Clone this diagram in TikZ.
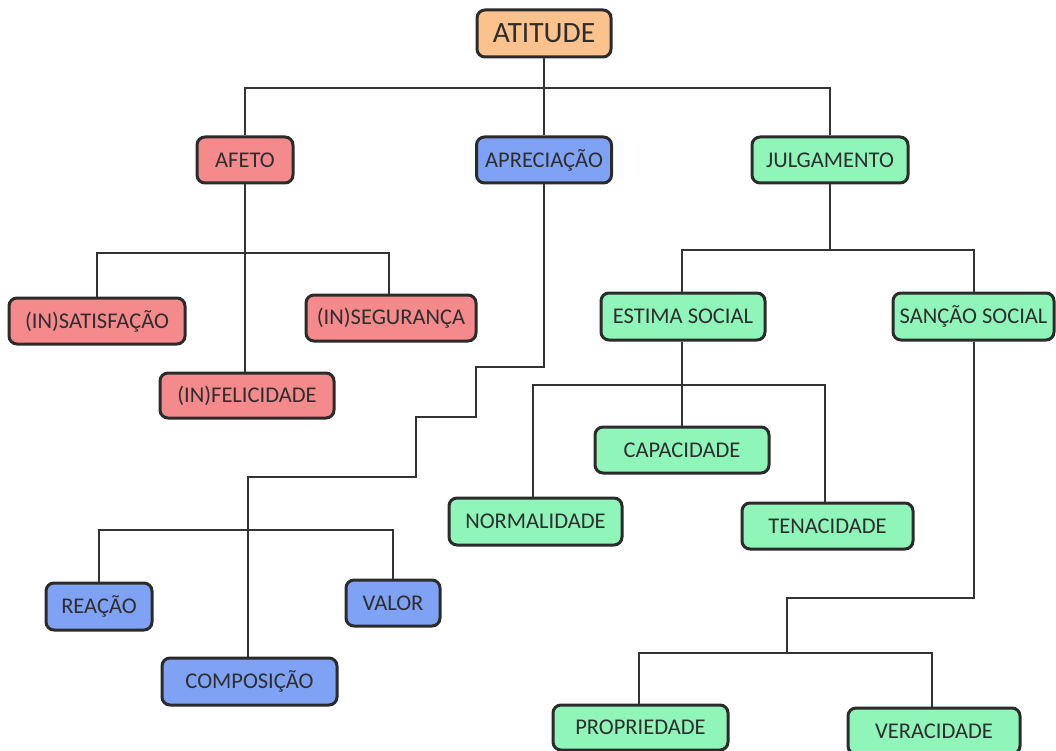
\documentclass[tikz,border=0pt]{standalone}
\usepackage{fontspec}
\setmainfont{Carlito}
\begin{document}
\begin{tikzpicture}[x=1pt,y=-1pt,
  box/.style={draw=boxline, line width=3pt, rounded corners=8pt, text=txt,
    inner sep=0pt, font=\fontsize{22.5}{26}\selectfont},
  rootbox/.style={box, fill=rootfill, font=\fontsize{29.5}{33}\selectfont},
  redbox/.style={box, fill=redfill},
  bluebox/.style={box, fill=bluefill},
  greenbox/.style={box, fill=greenfill},
  link/.style={draw=linecol, line width=2pt}]
\definecolor{boxline}{HTML}{2B2B2B}
\definecolor{linecol}{HTML}{333333}
\definecolor{txt}{HTML}{2E2E2E}
\definecolor{rootfill}{HTML}{FCC28D}
\definecolor{redfill}{HTML}{F48A8C}
\definecolor{bluefill}{HTML}{7FA2F5}
\definecolor{greenfill}{HTML}{8FF5B9}

\useasboundingbox[fill=white] (0,0) rectangle (1056,751);

% bends of the connectors
\coordinate (b0) at (544,88);
\coordinate (b1) at (245,253);
\coordinate (ja) at (830,250);
\coordinate (ea) at (682,385);
\coordinate (s1) at (974,598);
\coordinate (s2) at (787,598);
\coordinate (s3) at (787,653);
\coordinate (a1) at (544,367);
\coordinate (a2) at (476,367);
\coordinate (a3) at (476,417);
\coordinate (a4) at (416,417);
\coordinate (a5) at (416,477);
\coordinate (a6) at (248,477);
\coordinate (a7) at (248,530);

% nodes
\node[rootbox,  minimum width=134pt, minimum height=47pt] (atitude) at (544,33.5) {ATITUDE};
\node[redbox,   minimum width=96pt,  minimum height=46pt] (afeto)   at (245,160) {AFETO};
\node[bluebox,  minimum width=135pt, minimum height=46pt] (apre)    at (544,160) {APRECIAÇÃO};
\node[greenbox, minimum width=156pt, minimum height=46pt] (julg)    at (830,160) {JULGAMENTO};

\node[redbox, minimum width=176pt, minimum height=46pt] (insat) at (97,321) {(IN)SATISFAÇÃO};
\node[redbox, minimum width=170pt, minimum height=46pt] (inseg) at (391,318) {(IN)SEGURANÇA};
\node[redbox, minimum width=174pt, minimum height=45pt] (infel) at (247,395.5) {(IN)FELICIDADE};

\node[greenbox, minimum width=164pt, minimum height=47pt] (estima) at (683,316.5) {ESTIMA SOCIAL};
\node[greenbox, minimum width=161pt, minimum height=47pt] (sancao) at (973.5,316.5) {SANÇÃO SOCIAL};
\node[greenbox, minimum width=174pt, minimum height=46pt] (capac)  at (682,450) {CAPACIDADE};
\node[greenbox, minimum width=173pt, minimum height=47pt] (normal) at (535.5,521.5) {NORMALIDADE};
\node[greenbox, minimum width=171pt, minimum height=46pt] (tenac)  at (827.5,526) {TENACIDADE};
\node[greenbox, minimum width=175pt, minimum height=45pt] (propr)  at (640.5,727.5) {PROPRIEDADE};
\node[greenbox, minimum width=172pt, minimum height=46pt] (verac)  at (934,731) {VERACIDADE};

\node[bluebox, minimum width=106pt, minimum height=47pt] (reacao) at (99,606.5) {REAÇÃO};
\node[bluebox, minimum width=94pt,  minimum height=46pt] (valor)  at (393,603) {VALOR};
\node[bluebox, minimum width=175pt, minimum height=47pt] (compos) at (249.5,681.5) {COMPOSIÇÃO};

% level 1
\draw[link] (atitude.south) -- (b0);
\draw[link] (afeto.north) |- (b0);
\draw[link] (apre.north) -- (b0);
\draw[link] (julg.north) |- (b0);

% AFETO
\draw[link] (afeto.south) -- (b1);
\draw[link] (insat.north) |- (b1);
\draw[link] (inseg.north -| 389,0) |- (b1);
\draw[link] (b1) -- (b1 |- infel.north);

% JULGAMENTO
\draw[link] (julg.south) -- (ja);
\draw[link] (estima.north -| ea) |- (ja);
\draw[link] (sancao.north -| s1) |- (ja);

% ESTIMA SOCIAL
\draw[link] (estima.south -| ea) -- (ea);
\draw[link] (ea) -- (ea |- capac.north);
\draw[link] (normal.north -| 533,0) |- (ea);
\draw[link] (tenac.north -| 825,0) |- (ea);

% SANÇÃO SOCIAL
\draw[link] (sancao.south -| s1) -- (s1) -- (s2) -- (s3);
\draw[link] (propr.north -| 639,0) |- (s3);
\draw[link] (verac.north -| 932,0) |- (s3);

% APRECIAÇÃO
\draw[link] (apre.south -| a1) -- (a1) -- (a2) -- (a3) -- (a4) -- (a5) -- (a6) -- (a6 |- compos.north);
\draw[link] (reacao.north) |- (a7);
\draw[link] (valor.north) |- (a7);
\end{tikzpicture}
\end{document}
